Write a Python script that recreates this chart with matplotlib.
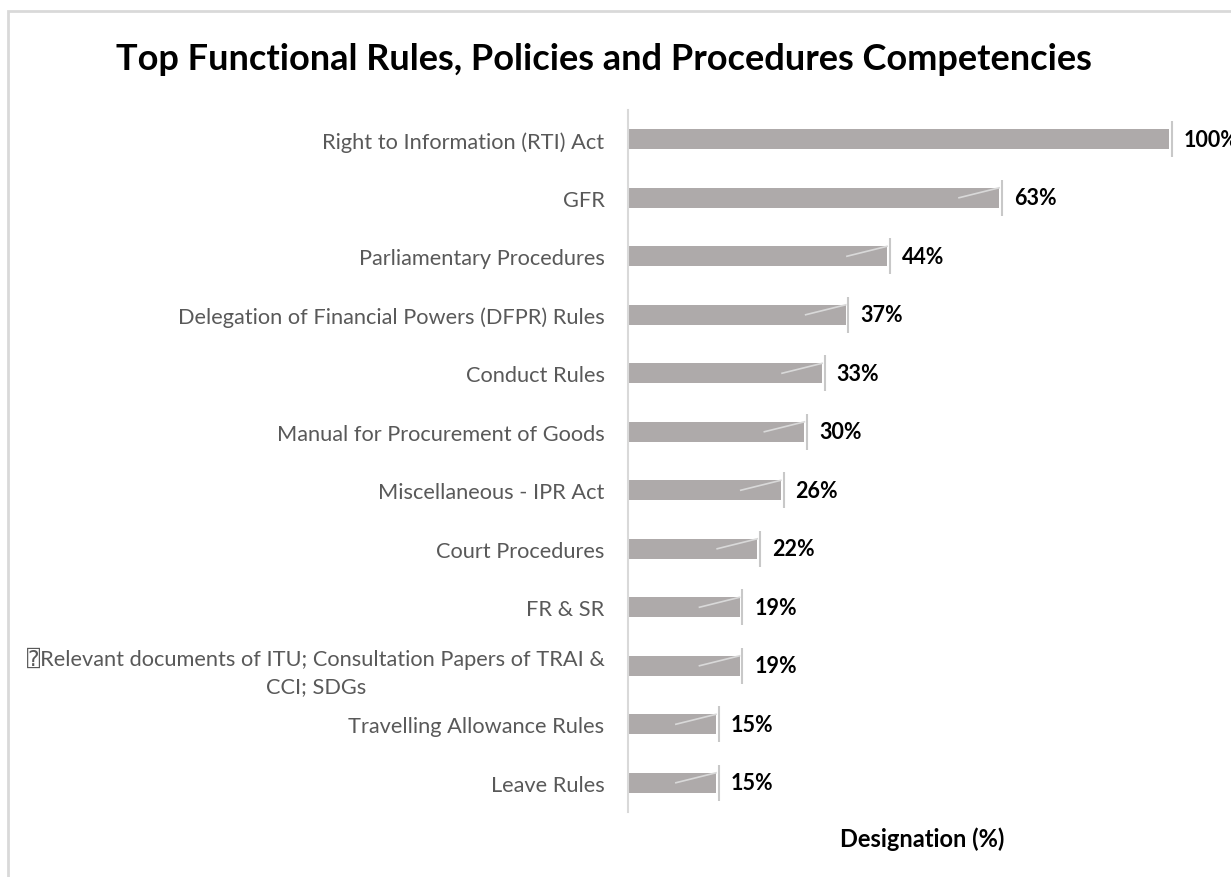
import matplotlib
matplotlib.use("Agg")
import matplotlib.pyplot as plt
from matplotlib.patches import Rectangle

plt.rcParams['font.family'] = ['Lato', 'DejaVu Sans', 'DejaVu Sans Mono']

# Competency areas, top to bottom
categories = [
    "Right to Information (RTI) Act",
    "GFR",
    "Parliamentary Procedures",
    "Delegation of Financial Powers (DFPR) Rules",
    "Conduct Rules",
    "Manual for Procurement of Goods",
    "Miscellaneous - IPR Act",
    "Court Procedures",
    "FR & SR",
    "\u2370Relevant documents of ITU; Consultation Papers of TRAI &\nCCI; SDGs",
    "Travelling Allowance Rules",
    "Leave Rules",
]
# Share of designations (%)
values = [100, 63, 44, 37, 33, 30, 26, 22, 19, 19, 15, 15]

title = "Top Functional Rules, Policies and Procedures Competencies"
xlabel = "Designation (%)"

BAR_COLOR = "#aeaaaa"
LABEL_COLOR = "#595959"
LINE_COLOR = "#c8c8c8"
DIAG_COLOR = "#d9d9d9"

W, H = 1231, 878
fig = plt.figure(figsize=(W / 100, H / 100), dpi=100)

# chart-area frame (runs off the right and bottom edges)
fig.patches.append(Rectangle((8 / W, -0.1), 1.2, 1.1 - 12 / H,
                             transform=fig.transFigure, fill=False,
                             edgecolor="#d9d9d9", linewidth=2))

ax = fig.add_axes([627.5 / W, (H - 813) / H, (1169 - 627.5) / W, (813 - 111) / H])
XMAX = 91.8
pos = list(range(len(categories)))
ax.barh(pos, values, height=0.34, color=BAR_COLOR, zorder=2)
ax.set_xlim(0, XMAX)
ax.set_ylim(len(categories) - 0.5, -0.5)

for y, v in zip(pos, values):
    xe = min(v, XMAX)
    # end marker
    ax.plot([xe + 0.45, xe + 0.45], [y - 0.31, y + 0.31], color=LINE_COLOR,
            lw=1.5, clip_on=False, zorder=3, solid_capstyle="butt")
    # diagonal accent
    if v <= XMAX:
        ax.plot([v - 6.8, v], [y, y - 0.17], color=DIAG_COLOR, lw=1.2, zorder=3)
    ax.annotate(f"{v}%", xy=(xe, y), xytext=(10.5, 0), textcoords="offset points",
                ha="left", va="center", fontsize=15.5, fontweight="bold",
                color="black", annotation_clip=False)

ax.set_yticks(pos)
ax.set_yticklabels(categories, fontsize=15.7, color=LABEL_COLOR)
for t in ax.get_yticklabels():
    t.set_multialignment("center")
    t.set_linespacing(1.45)
ax.tick_params(axis="y", length=0, pad=16.5)
ax.set_xticks([])
for s in ["top", "right", "bottom"]:
    ax.spines[s].set_visible(False)
ax.spines["left"].set_color("#d9d9d9")
ax.spines["left"].set_linewidth(1.5)

fig.text(604 / W, 1 - 59 / H, title, ha="center", va="center",
         fontsize=26, fontweight="bold", color="black")
fig.text(922 / W, 1 - 839 / H, xlabel, ha="center", va="center",
         fontsize=17, fontweight="bold", color="black")

fig.savefig("out.png", dpi=100)
